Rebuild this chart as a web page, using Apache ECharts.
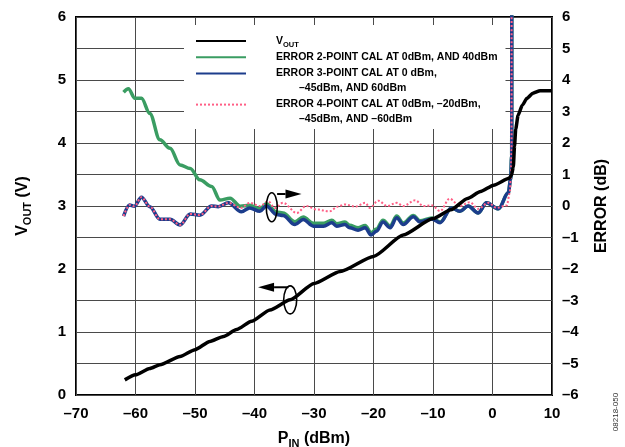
<!DOCTYPE html>
<html><head><meta charset="utf-8">
<script src="https://cdn.jsdelivr.net/npm/echarts@6/dist/echarts.min.js"></script>
<style>html,body{margin:0;padding:0;background:#fff}#c{width:625px;height:447px}</style>
</head><body><div id="c"></div>
<script>
const FONT = "'Liberation Sans', Arial, sans-serif";
// ---- data ----
const seriesNames = ['VOUT', 'ERROR 2-POINT CAL AT 0dBm, AND 40dBm', 'ERROR 3-POINT CAL AT 0 dBm, –45dBm, AND 60dBm', 'ERROR 4-POINT CAL AT 0dBm, –20dBm, –45dBm, AND –60dBm'];
const voutX = [-61.8,-60,-57.6,-55.9,-52.5,-50,-47.5,-45.2,-43,-40.5,-37.4,-34,-30,-25.6,-20,-15,-10,-7,-4.2,-2,0.2,2.8,3.2,3.5,3.7,3.9,4.3,5,5.8,6.8,8,10];
const voutY = [0.24,0.32,0.42,0.48,0.61,0.72,0.85,0.93,1.04,1.17,1.35,1.51,1.77,1.96,2.20,2.54,2.80,2.94,3.12,3.23,3.33,3.44,3.49,3.62,3.95,4.22,4.44,4.60,4.71,4.79,4.83,4.83];
const err2X = [-62,-61.2,-60.1,-59,-57.6,-55.9,-54.2,-52.5,-50.8,-49.2,-47.2,-45.8,-44.1,-42.4,-40.8,-39.1,-38,-36.3,-35.2,-33.2,-31.8,-30.1,-28.4,-27,-26.2,-24.8,-24,-22.6,-21.4,-20.4,-19.5,-18.4,-17.2,-16.1,-15,-13.3,-12.2,-10.2,-8.8,-6.9,-5.5,-4.1,-2.4,-1,1,2.65,3.05,3.23,3.24];
const err2Y = [3.61,3.72,3.42,3.42,2.94,2.10,1.83,1.30,1.19,0.83,0.62,0.19,0.25,-0.01,0.02,-0.09,0.07,-0.19,-0.22,-0.5,-0.35,-0.55,-0.55,-0.45,-0.56,-0.51,-0.61,-0.69,-0.62,-0.85,-0.73,-0.45,-0.63,-0.32,-0.54,-0.3,-0.47,-0.38,-0.51,-0.06,-0.17,0,-0.22,0.1,-0.09,0.42,0.84,1.6,8];
const err3X = [-62,-61,-60.2,-59,-57.6,-55.9,-54.2,-52.5,-50.8,-49.2,-47.2,-46.1,-44.4,-42.2,-40.8,-39.1,-38,-36.3,-35.2,-33.2,-31.8,-30.1,-28.4,-27,-26.2,-24.8,-24,-22.6,-21.4,-20.4,-19.5,-18.4,-17.2,-16.1,-15,-13.3,-12.2,-10.2,-8.8,-6.9,-5.5,-4.1,-2.4,-1,1,2.65,3.05,3.23,3.24];
const err3Y = [-0.32,0.03,-0.01,0.28,-0.02,-0.42,-0.42,-0.6,-0.25,-0.29,0,-0.02,0.1,-0.18,-0.06,-0.17,0,-0.27,-0.3,-0.59,-0.43,-0.64,-0.64,-0.53,-0.64,-0.59,-0.69,-0.77,-0.69,-0.92,-0.8,-0.51,-0.69,-0.37,-0.59,-0.34,-0.51,-0.41,-0.53,-0.06,-0.17,0,-0.22,0.1,-0.09,0.42,0.84,1.6,8];
const err4X = [-62,-61,-60.2,-59,-57.6,-55.9,-54.2,-52.5,-50.8,-49.2,-47.2,-46.1,-44.4,-42.3,-40.8,-39.1,-37.7,-36.6,-35.2,-32.9,-31.3,-29.6,-27.4,-26,-24.8,-23,-21.4,-20.6,-19.2,-17.7,-16.1,-15,-13,-11.6,-10.2,-8.8,-7.2,-5.5,-3.8,-2.4,-0.7,0.7,2.4,2.9,3.1,3.2,3.21];
const err4Y = [-0.32,0.03,-0.01,0.28,-0.02,-0.42,-0.42,-0.6,-0.25,-0.29,0,-0.02,0.1,-0.06,0.1,0,0.15,-0.06,0.1,-0.22,0,-0.11,-0.17,-0.02,0.05,-0.02,0.1,-0.06,0.17,0,0.1,0,0.18,0,0.02,-0.16,0.23,0,0.12,-0.09,0.1,-0.06,0.02,0.4,1.0,1.8,8];
// annotation anchors in data units [dBm, V]
const annErrEllipse = [-37.1, 2.98], annErrArrowFrom = [-36.2, 3.19], annErrArrowTo = [-32.1, 3.19];
const annVoutEllipse = [-34.0, 1.51], annVoutArrowFrom = [-34.3, 1.71], annVoutArrowTo = [-39.4, 1.71];

const pair = (xs, ys) => xs.map((x, i) => [x, ys[i]]);
const dash = v => v < 0 ? '–' + Math.abs(v) : String(v);
const legendText = {
  [seriesNames[0]]: 'V{sub|OUT}',
  [seriesNames[1]]: 'ERROR 2-POINT CAL AT 0dBm, AND 40dBm',
  [seriesNames[2]]: 'ERROR 3-POINT CAL AT 0 dBm,\n{b|–45dBm, AND 60dBm}',
  [seriesNames[3]]: 'ERROR 4-POINT CAL AT 0dBm, –20dBm,\n{b|–45dBm, AND –60dBm}'
};

const chart = echarts.init(document.getElementById('c'), null, {renderer: 'canvas'});
const lblStyle = {color: '#000', fontSize: 15, fontWeight: 'bold', fontFamily: FONT};
const nameStyle = {color: '#000', fontSize: 16, fontWeight: 'bold', fontFamily: FONT};
const subRich = {sub: {fontSize: 11, fontWeight: 'bold', fontFamily: FONT, padding: [9, 0, 0, 0]}};
chart.setOption({
  animation: false,
  backgroundColor: '#fff',
  grid: {left: 76, right: 73, top: 17, bottom: 52, containLabel: false, outerBoundsMode: 'none',
         show: true, borderColor: '#000', borderWidth: 2, backgroundColor: 'transparent'},
  xAxis: {
    type: 'value', min: -70, max: 10, interval: 10,
    axisLine: {show: false}, axisTick: {show: false},
    axisLabel: Object.assign({margin: 11, formatter: dash}, lblStyle),
    splitLine: {show: true, lineStyle: {color: '#4a4a4a', width: 1}},
    name: 'P{sub|IN} (dBm)', nameLocation: 'middle', nameGap: 34,
    nameTextStyle: Object.assign({rich: subRich}, nameStyle)
  },
  yAxis: [{
    type: 'value', min: 0, max: 6, interval: 0.5,
    axisLine: {show: false}, axisTick: {show: false},
    axisLabel: Object.assign({margin: 10, formatter: v => Number.isInteger(v) ? String(v) : ''}, lblStyle),
    splitLine: {show: true, lineStyle: {color: '#4a4a4a', width: 1}},
    name: 'V{sub|OUT} (V)', nameLocation: 'middle', nameRotate: 90, nameGap: 43,
    nameTextStyle: Object.assign({rich: subRich}, nameStyle)
  }, {
    type: 'value', position: 'right', min: -6, max: 6, interval: 1,
    axisLine: {show: false}, axisTick: {show: false},
    axisLabel: Object.assign({margin: 10, formatter: dash}, lblStyle),
    splitLine: {show: false},
    name: 'ERROR (dB)', nameLocation: 'middle', nameRotate: 90, nameGap: 42,
    nameTextStyle: nameStyle
  }],
  legend: {
    orient: 'vertical', left: 184, top: 25,
    padding: [8.5, 8, 4, 11], itemGap: 1.2,
    itemWidth: 50, itemHeight: 15,
    backgroundColor: '#fff',
    selectedMode: false,
    itemStyle: {opacity: 0},
    data: [
      {name: seriesNames[0]},
      {name: seriesNames[1]},
      {name: seriesNames[2]},
      {name: seriesNames[3], textStyle: {padding: [2, 0, 2, 25]}}
    ],
    formatter: n => legendText[n],
    textStyle: {
      color: '#000', fontSize: 10.5, fontWeight: 'bold', fontFamily: FONT,
      lineHeight: 15, height: 15, padding: [0, 0, 0, 25],
      rich: {
        sub: {fontSize: 7.5, fontWeight: 'bold', fontFamily: FONT, padding: [7, 0, 0, 0]},
        b: {padding: [0, 0, 0, 23], fontSize: 10.5, fontWeight: 'bold', fontFamily: FONT}
      }
    }
  },
  series: [
    {name: seriesNames[1], type: 'line', yAxisIndex: 1, data: pair(err2X, err2Y), symbol: 'none', smooth: 0.35, smoothMonotone: 'x',
     lineStyle: {color: '#3a9d62', width: 3.5}, itemStyle: {color: '#3a9d62'}, z: 2},
    {name: seriesNames[2], type: 'line', yAxisIndex: 1, data: pair(err3X, err3Y), symbol: 'none', smooth: 0.35, smoothMonotone: 'x',
     lineStyle: {color: '#1c3d8c', width: 3.5}, itemStyle: {color: '#1c3d8c'}, z: 3},
    {name: seriesNames[3], type: 'line', yAxisIndex: 1, data: pair(err4X, err4Y), symbol: 'none', smooth: 0.35, smoothMonotone: 'x',
     lineStyle: {color: '#ff5f86', width: 2, type: [2, 2]}, itemStyle: {color: '#ff5f86'}, z: 4},
    {name: seriesNames[0], type: 'line', yAxisIndex: 0, data: pair(voutX, voutY), symbol: 'none', smooth: 0.2, smoothMonotone: 'x',
     lineStyle: {color: '#000', width: 3.5}, itemStyle: {color: '#000'}, z: 5}
  ]
});

function px(p) { return chart.convertToPixel({xAxisIndex: 0, yAxisIndex: 0}, p); }
function arrow(from, to) {
  const a = px(from), b = px(to);
  const dir = Math.sign(b[0] - a[0]);
  const hl = 16, hw = 4.5;
  return [
    {type: 'line', shape: {x1: a[0], y1: a[1], x2: b[0] - dir * hl, y2: b[1]}, style: {stroke: '#000', lineWidth: 2}, z: 10},
    {type: 'polygon', shape: {points: [[b[0], b[1]], [b[0] - dir * hl, b[1] - hw], [b[0] - dir * hl, b[1] + hw]]}, style: {fill: '#000'}, z: 10}
  ];
}
function ell(c, rx, ry) {
  const p = px(c);
  return {type: 'ellipse', shape: {cx: p[0], cy: p[1], rx: rx, ry: ry}, style: {fill: 'none', stroke: '#000', lineWidth: 1.6}, z: 10};
}
chart.setOption({
  graphic: [
    ell(annErrEllipse, 5.5, 14.5),
    ...arrow(annErrArrowFrom, annErrArrowTo),
    ell(annVoutEllipse, 6.5, 14),
    ...arrow(annVoutArrowFrom, annVoutArrowTo),
    {type: 'text', x: 616, y: 412, rotation: Math.PI / 2,
     style: {text: '08218-050', font: '8px ' + FONT, fill: '#333', align: 'center', verticalAlign: 'middle'}}
  ]
});
</script></body></html>
